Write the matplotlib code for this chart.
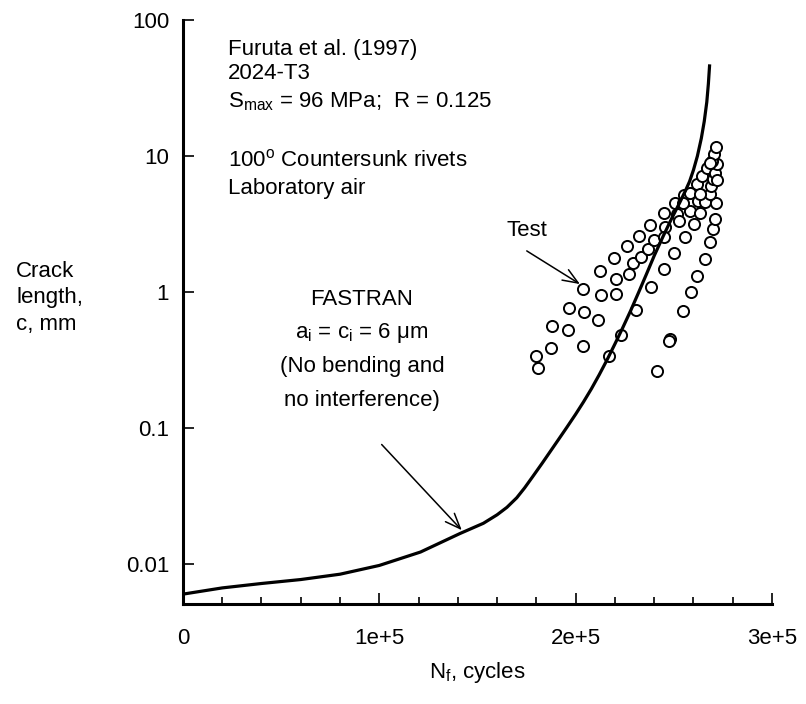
import numpy as np
import matplotlib
matplotlib.use('Agg')
import matplotlib.pyplot as plt
from matplotlib.ticker import FixedLocator, FixedFormatter, MultipleLocator

plt.rcParams['font.family'] = ['Liberation Sans', 'DejaVu Sans']
plt.rcParams['mathtext.fontset'] = 'custom'
plt.rcParams['mathtext.rm'] = 'Liberation Sans'
plt.rcParams['mathtext.it'] = 'Liberation Sans:italic'

# FASTRAN prediction (cycles, crack length mm)
fastran_n = [0, 2.0e4, 4.0e4, 6.0e4, 8.0e4, 1.0e5, 1.21e5, 1.41e5, 1.53e5, 1.60e5,
             1.65e5, 1.70e5, 1.74e5, 1.78e5, 1.83e5, 1.87e5, 1.91e5, 1.955e5,
             2.0e5, 2.04e5, 2.08e5, 2.12e5, 2.16e5, 2.2e5, 2.24e5, 2.28e5, 2.32e5,
             2.36e5, 2.40e5, 2.447e5, 2.49e5, 2.53e5, 2.56e5, 2.58e5, 2.60e5,
             2.62e5, 2.64e5, 2.655e5, 2.668e5, 2.676e5, 2.682e5]
fastran_c = [0.00603, 0.0067, 0.00722, 0.00772, 0.00845, 0.0098, 0.0123, 0.0168,
             0.0200, 0.0231, 0.0262, 0.0308, 0.0364, 0.0438, 0.0554, 0.0672, 0.0815,
             0.1014, 0.1267, 0.156, 0.1945, 0.247, 0.318, 0.416, 0.548, 0.73, 0.99,
             1.35, 1.85, 2.6, 3.5, 4.55, 5.6, 6.5, 7.9, 10.0, 13.5, 18.0, 25.0,
             34.0, 46.0]

# test data (Furuta et al. 1997)
test_n = [2.04e5, 2.124e5, 2.128e5, 2.197e5, 2.206e5, 2.206e5, 2.263e5, 2.272e5,
          2.29e5, 2.325e5, 2.333e5, 1.966e5, 2.043e5, 2.113e5, 1.88e5, 1.96e5,
          1.875e5, 2.04e5, 1.797e5, 1.807e5, 2.23e5, 2.17e5, 2.306e5, 2.379e5,
          2.384e5, 2.37e5, 2.40e5, 2.45e5, 2.455e5, 2.45e5, 2.45e5, 2.48e5,
          2.506e5, 2.515e5, 2.527e5, 2.503e5, 2.557e5, 2.545e5, 2.554e5, 2.58e5,
          2.603e5, 2.59e5, 2.62e5, 2.617e5, 2.583e5, 2.634e5, 2.625e5, 2.645e5,
          2.66e5, 2.66e5, 2.668e5, 2.685e5, 2.698e5, 2.71e5, 2.715e5, 2.685e5,
          2.69e5, 2.70e5, 2.71e5, 2.72e5, 2.72e5, 2.697e5, 2.706e5, 2.715e5,
          2.413e5, 2.477e5, 2.634e5, 2.549e5, 2.685e5]
test_c = [1.06, 1.42, 0.96, 1.77, 1.25, 0.97, 2.19, 1.35,
          1.64, 2.59, 1.80, 0.77, 0.71, 0.62, 0.56, 0.53,
          0.386, 0.40, 0.341, 0.275, 0.484, 0.341, 0.743, 3.10,
          1.10, 2.07, 2.41, 3.80, 3.02, 2.56, 1.49, 0.453,
          4.51, 3.74, 3.31, 1.95, 2.55, 0.722, 5.16, 3.95,
          3.16, 1.01, 1.32, 6.21, 5.39, 3.85, 4.68, 7.14,
          1.75, 4.6, 8.22, 2.34, 2.90, 3.47, 4.51, 5.25,
          6.0, 6.76, 7.55, 6.68, 8.7, 9.2, 10.3, 11.7,
          0.262, 0.44, 5.30, 4.55, 8.96]

xticks = [0, 1e5, 2e5, 3e5]
xtick_labels = ['0', '1e+5', '2e+5', '3e+5']
yticks = [0.01, 0.1, 1, 10, 100]
ytick_labels = ['0.01', '0.1', '1', '10', '100']

fig = plt.figure(figsize=(8.06, 7.04), dpi=100)
ax = fig.add_axes([0.227, 0.142, 0.7308, 0.8295])

ax.plot(test_n, test_c, 'o', ms=8, mfc='white', mec='black', mew=1.4, zorder=2)
ax.plot(fastran_n, fastran_c, '-', color='black', lw=2.3, zorder=3)

ax.set_yscale('log')
ax.set_xlim(0, 3e5)
ax.set_ylim(0.0051, 100)

ax.xaxis.set_major_locator(FixedLocator(xticks))
ax.xaxis.set_major_formatter(FixedFormatter(xtick_labels))
ax.xaxis.set_minor_locator(MultipleLocator(2e4))
ax.yaxis.set_major_locator(FixedLocator(yticks))
ax.yaxis.set_major_formatter(FixedFormatter(ytick_labels))
ax.yaxis.set_minor_locator(FixedLocator([]))

for s in ['top', 'right']:
    ax.spines[s].set_visible(False)
for s in ['left', 'bottom']:
    ax.spines[s].set_linewidth(2.2)

ax.tick_params(which='major', direction='in', length=8, width=1.2, labelsize=16)
ax.tick_params(which='minor', direction='in', length=5, width=1.2)
ax.tick_params(axis='x', pad=17)
ax.tick_params(axis='y', pad=10)

ax.set_xlabel('N$_\\mathrm{f}$, cycles', fontsize=16, labelpad=8)
fig.text(0.02, 0.577, 'Crack\nlength,\nc, mm', fontsize=16, ha='left', va='center',
         linespacing=1.35)

tkw = dict(transform=ax.transAxes, fontsize=16, ha='left', va='center')
ax.text(0.0764, 0.950, 'Furuta et al. (1997)', **tkw)
ax.text(0.0764, 0.908, '2024-T3', **tkw)
ax.text(0.0764, 0.860, 'S$_\\mathrm{max}$ = 96 MPa;  R = 0.125', **tkw)
ax.text(0.0764, 0.760, '100$^\\mathrm{o}$ Countersunk rivets', **tkw)
ax.text(0.0764, 0.712, 'Laboratory air', **tkw)

ckw = dict(transform=ax.transAxes, fontsize=16, ha='center', va='center')
ax.text(0.584, 0.640, 'Test', **ckw)
ax.text(0.304, 0.522, 'FASTRAN', **ckw)
ax.text(0.304, 0.464, 'a$_\\mathrm{i}$ = c$_\\mathrm{i}$ = 6 \u03bcm', **ckw)
ax.text(0.304, 0.406, '(No bending and', **ckw)
ax.text(0.304, 0.349, 'no interference)', **ckw)

akw = dict(arrowstyle='->,head_length=0.5,head_width=0.2', color='black', lw=1.1,
           mutation_scale=22, shrinkA=0, shrinkB=0)
ax.annotate('', xy=(2.022e5, 1.146), xytext=(1.751e5, 2.01), arrowprops=akw)
ax.annotate('', xy=(1.42e5, 0.0178), xytext=(1.012e5, 0.0759), arrowprops=akw)

fig.savefig('out.png', dpi=100)
